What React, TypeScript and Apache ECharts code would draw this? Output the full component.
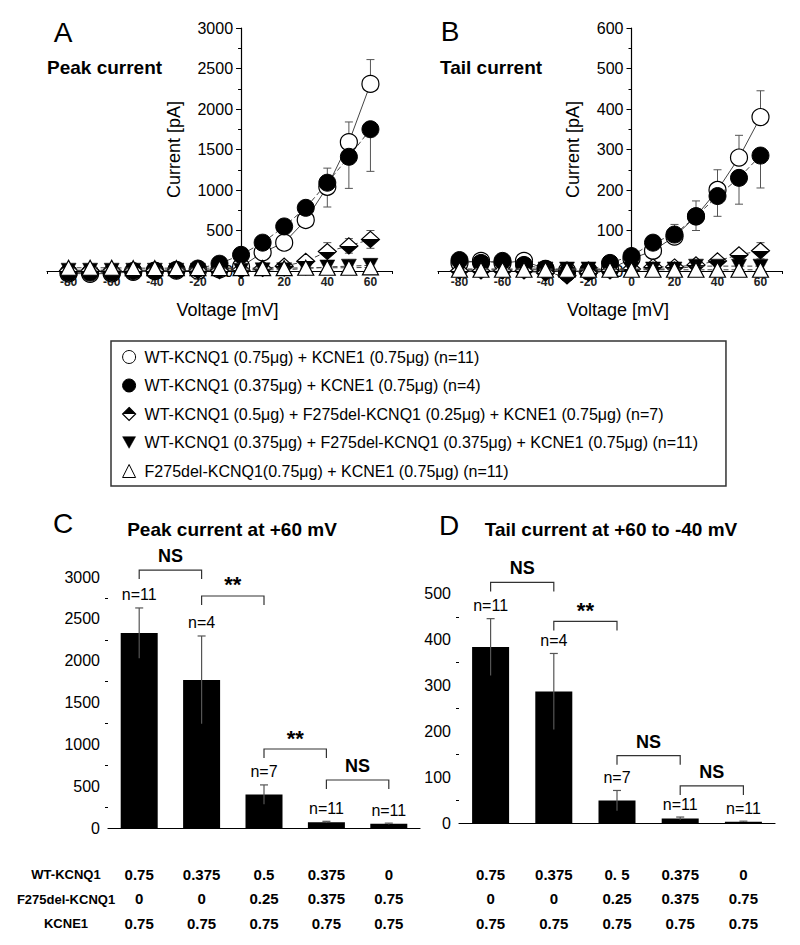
import React, { useEffect, useRef } from "react";
import * as echarts from "echarts";

// ---------- data ----------
const voltages = [-80, -70, -60, -50, -40, -30, -20, -10, 0, 10, 20, 30, 40, 50, 60];

const seriesNames = [
  "WT-KCNQ1 (0.75μg) + KCNE1 (0.75μg) (n=11)",
  "WT-KCNQ1 (0.375μg) + KCNE1 (0.75μg) (n=4)",
  "WT-KCNQ1 (0.5μg) + F275del-KCNQ1 (0.25μg) + KCNE1 (0.75μg) (n=7)",
  "WT-KCNQ1 (0.375μg) + F275del-KCNQ1 (0.375μg) + KCNE1 (0.75μg) (n=11)",
  "F275del-KCNQ1(0.75μg) + KCNE1 (0.75μg) (n=11)",
];

// Panel A: peak current (pA)
const peakWt075 = [-30, -35, -30, -10, 0, 5, 5, 20, 50, 230, 350, 630, 1040, 1590, 2310];
const peakWt075Err = [0, 0, 0, 0, 0, 0, 0, 0, 0, 40, 45, 40, 230, 250, 300];
const peakWt0375 = [-20, -20, -20, 0, 5, 15, 30, 90, 200, 350, 550, 780, 1090, 1410, 1750];
const peakWt0375Err = [0, 0, 0, 0, 0, 0, 0, 0, 0, 0, 0, 40, 300, 390, 520];
const peakMix05 = [5, 5, 5, 5, 5, 5, 5, 5, 10, 30, 60, 120, 240, 310, 390];
const peakMix05Err = [0, 0, 0, 0, 0, 0, 0, 0, 0, 0, 0, 30, 110, 90, 110];
const peakMix0375 = [10, 10, 10, 10, 10, 10, 10, 10, 10, 15, 15, 30, 50, 60, 70];
const peakMix0375Err = [0, 0, 0, 0, 0, 0, 0, 0, 0, 0, 0, 30, 30, 30, 30];
const peakF275 = [40, 40, 40, 35, 35, 35, 35, 35, 35, 35, 35, 40, 40, 40, 45];
const peakF275Err = [0, 0, 0, 0, 0, 0, 0, 0, 0, 0, 0, 0, 0, 0, 0];

// Panel B: tail current (pA)
const tailWt075 = [20, 25, 20, 25, 5, 0, 0, 5, 30, 50, 85, 135, 200, 280, 380];
const tailWt075Err = [0, 0, 0, 0, 0, 0, 0, 0, 0, 15, 30, 38, 50, 55, 65];
const tailWt0375 = [27, 20, 25, 15, 5, -5, 0, 20, 37, 70, 90, 135, 185, 230, 285];
const tailWt0375Err = [0, 0, 0, 0, 0, 0, 0, 0, 0, 0, 20, 35, 50, 65, 80];
const tailMix05 = [0, 0, 0, 0, -5, -12, -5, 0, 5, 10, 10, 15, 25, 40, 50];
const tailMix05Err = [0, 0, 0, 0, 0, 0, 0, 0, 0, 0, 0, 0, 0, 10, 20];
const tailMix0375 = [5, 5, 5, 5, 5, 5, 5, 5, 5, 5, 5, 12, 12, 12, 12];
const tailMix0375Err = [0, 0, 0, 0, 0, 0, 0, 0, 0, 0, 0, 0, 0, 0, 0];
const tailF275 = [3, 3, 3, 3, 3, 3, 3, 3, 3, 3, 3, 3, 3, 3, 3];
const tailF275Err = [0, 0, 0, 0, 0, 0, 0, 0, 0, 0, 0, 0, 0, 0, 0];

// error direction per group: 1 up, -1 down, 0 both
const errDirections = [1, -1, 0, 0, 0];

// Panels C and D: bars
const barCategories = ["G1", "G2", "G3", "G4", "G5"];
const peakAt60 = [2330, 1770, 400, 70, 50];
const peakAt60Err = [300, 525, 115, 10, 8];
const tailAt60 = [384, 287, 49, 10, 3];
const tailAt60Err = [62, 83, 22, 3, 1];
const nCountsC = ["n=11", "n=4", "n=7", "n=11", "n=11"];
const nCountsD = ["n=11", "n=4", "n=7", "n=11", "n=11"];

const bracketsC = [[0, 1, 3083], [1, 2, 2773], [2, 3, 944], [3, 4, 574]];
const bracketLabelsC = ["NS", "**", "**", "NS"];
const bracketsD = [[0, 1, 525], [1, 2, 440], [2, 3, 147], [3, 4, 81]];
const bracketLabelsD = ["NS", "**", "NS", "NS"];

// Table under bars
const tableRowLabels = ["WT-KCNQ1", "F275del-KCNQ1", "KCNE1"];
const wtRowC = ["0.75", "0.375", "0.5", "0.375", "0"];
const wtRowD = ["0.75", "0.375", "0. 5", "0.375", "0"];
const f275Row = ["0", "0", "0.25", "0.375", "0.75"];
const kcne1Row = ["0.75", "0.75", "0.75", "0.75", "0.75"];

// ---------- styles ----------
const FONT = "Liberation Sans, Arial, Helvetica, sans-serif";

function halfGradient(topBlack: boolean) {
  const a = topBlack ? "#000" : "#fff";
  const b = topBlack ? "#fff" : "#000";
  return new echarts.graphic.LinearGradient(0, 0, 0, 1, [
    { offset: 0, color: a },
    { offset: 0.5, color: a },
    { offset: 0.5, color: b },
    { offset: 1, color: b },
  ]);
}

const downTri = "path://M0,0L10,0L5,9Z";

const markerDefs = [
  { symbol: "circle", size: 17, itemStyle: { color: "#fff", borderColor: "#000", borderWidth: 1.2 }, dashed: false },
  { symbol: "circle", size: 17, itemStyle: { color: "#000", borderColor: "#000", borderWidth: 1 }, dashed: true },
  { symbol: "diamond", size: [18, 16], itemStyle: { color: halfGradient(false), borderColor: "#000", borderWidth: 1.2 }, dashed: true },
  { symbol: downTri, size: [15, 14], itemStyle: { color: "#000", borderColor: "#000", borderWidth: 0.5 }, dashed: true },
  { symbol: "triangle", size: [16, 15], itemStyle: { color: "#fff", borderColor: "#000", borderWidth: 1.2 }, dashed: true },
];

const legendIcons = ["circle", "circle", "diamond", downTri, "triangle"];
const legendItemStyles = [
  { color: "#fff", borderColor: "#000", borderWidth: 1 },
  { color: "#000", borderColor: "#000", borderWidth: 1 },
  { color: halfGradient(true), borderColor: "#000", borderWidth: 1.2 },
  { color: "#000", borderColor: "#000", borderWidth: 0.5 },
  { color: "#fff", borderColor: "#000", borderWidth: 1 },
];

function buildErrData(vals: number[][], errs: number[][]) {
  const out: number[][] = [];
  vals.forEach((arr, s) => {
    arr.forEach((v, i) => {
      if (errs[s][i] > 0) out.push([voltages[i], v, errs[s][i], errDirections[s]]);
    });
  });
  return out;
}

function ivErrRender(params: any, api: any) {
  const x = api.value(0);
  const y = api.value(1);
  const e = api.value(2);
  const d = api.value(3);
  const hi = d >= 0 ? y + e : y;
  const lo = d <= 0 ? y - e : y;
  const pHi = api.coord([x, hi]);
  const pLo = api.coord([x, lo]);
  const st = { stroke: "#555", lineWidth: 1 };
  const children: any[] = [
    { type: "line", shape: { x1: pHi[0], y1: pHi[1], x2: pLo[0], y2: pLo[1] }, style: st },
  ];
  if (d >= 0) children.push({ type: "line", shape: { x1: pHi[0] - 4, y1: pHi[1], x2: pHi[0] + 4, y2: pHi[1] }, style: st });
  if (d <= 0) children.push({ type: "line", shape: { x1: pLo[0] - 4, y1: pLo[1], x2: pLo[0] + 4, y2: pLo[1] }, style: st });
  return { type: "group", children };
}

function barErrRender(params: any, api: any) {
  const i = api.value(0);
  const v = api.value(1);
  const e = api.value(2);
  const pHi = api.coord([i, v + e]);
  const pLo = api.coord([i, Math.max(0, v - e)]);
  const st = { stroke: "#555", lineWidth: 1.2 };
  return {
    type: "group",
    children: [
      { type: "line", shape: { x1: pHi[0], y1: pHi[1], x2: pLo[0], y2: pLo[1] }, style: st },
      { type: "line", shape: { x1: pHi[0] - 4, y1: pHi[1], x2: pHi[0] + 4, y2: pHi[1] }, style: st },
    ],
  };
}

function nLabelRender(labels: string[]) {
  return (params: any, api: any) => {
    const i = api.value(0);
    const top = api.value(1) + api.value(2);
    const p = api.coord([i, top]);
    return {
      type: "text",
      x: p[0],
      y: p[1] - 13,
      style: {
        text: labels[params.dataIndex],
        font: `16px ${FONT}`,
        fill: "#000",
        align: "center",
        verticalAlign: "middle",
        textAlign: "center",
        textVerticalAlign: "middle",
      },
    };
  };
}

function bracketRender(labels: string[]) {
  return (params: any, api: any) => {
    const a = api.value(0);
    const b = api.value(1);
    const lvl = api.value(2);
    const p1 = api.coord([a, lvl]);
    const p2 = api.coord([b, lvl]);
    const label = labels[params.dataIndex];
    const isStar = label === "**";
    return {
      type: "group",
      children: [
        {
          type: "polyline",
          shape: { points: [[p1[0], p1[1] + 9], [p1[0], p1[1]], [p2[0], p1[1]], [p2[0], p1[1] + 9]] },
          style: { stroke: "#333", lineWidth: 1.2, fill: null },
        },
        {
          type: "text",
          x: (p1[0] + p2[0]) / 2,
          y: p1[1] - (isStar ? 11 : 14),
          style: {
            text: label,
            font: `bold ${isStar ? 22 : 18}px ${FONT}`,
            fill: "#000",
            align: "center",
            verticalAlign: "middle",
            textAlign: "center",
            textVerticalAlign: "middle",
          },
        },
      ],
    };
  };
}

function gText(text: string, x: number, y: number, font: string, align = "center") {
  return {
    type: "text",
    x,
    y,
    silent: true,
    style: {
      text,
      font,
      fill: "#000",
      align,
      verticalAlign: "middle",
      textAlign: align,
      textVerticalAlign: "middle",
    },
  };
}

function buildOption() {
  const axisLine = { onZero: false, lineStyle: { color: "#000", width: 1.2 } };
  const xLabelFmt = (v: number) => (v % 20 === 0 && v >= -80 && v <= 60 ? String(v) : "");

  const ivX = (grid: number) => ({
    type: "value",
    gridIndex: grid,
    min: -90,
    max: 70,
    interval: 10,
    splitLine: { show: false },
    axisLine,
    axisTick: { length: 3, lineStyle: { color: "#000" } },
    axisLabel: { fontSize: 12, fontWeight: "bold", margin: 5, color: "#222", formatter: xLabelFmt },
    name: "Voltage [mV]",
    nameLocation: "middle",
    nameGap: 30,
    nameTextStyle: { fontSize: 18, color: "#000", padding: [0, 0, 0, 16] },
  });

  const yCommon = (grid: number, max: number, interval: number) => ({
    type: "value",
    gridIndex: grid,
    min: 0,
    max,
    interval,
    splitLine: { show: false },
    axisLine,
    axisTick: { length: 5, lineStyle: { color: "#000" } },
    minorTick: { show: true, splitNumber: 2, length: 3, lineStyle: { color: "#000" } },
    minorSplitLine: { show: false },
    axisLabel: {
      fontSize: 16,
      margin: 8,
      color: "#000",
      formatter: (v: number) => (v % interval === 0 ? String(v) : ""),
    },
  });

  const barX = (grid: number, wtRow: string[], margin: number) => ({
    type: "category",
    gridIndex: grid,
    data: barCategories,
    axisLine,
    axisTick: { show: false },
    axisLabel: {
      interval: 0,
      margin,
      color: "#000",
      fontSize: 15,
      fontWeight: "bold",
      lineHeight: 24.5,
      formatter: (_v: string, i: number) => `${wtRow[i]}\n${f275Row[i]}\n${kcne1Row[i]}`,
    },
  });

  const peakVals = [peakWt075, peakWt0375, peakMix05, peakMix0375, peakF275];
  const peakErrs = [peakWt075Err, peakWt0375Err, peakMix05Err, peakMix0375Err, peakF275Err];
  const tailVals = [tailWt075, tailWt0375, tailMix05, tailMix0375, tailF275];
  const tailErrs = [tailWt075Err, tailWt0375Err, tailMix05Err, tailMix0375Err, tailF275Err];

  const lineSeries = (vals: number[][], axis: number) =>
    vals.map((arr, s) => ({
      type: "line",
      name: seriesNames[s],
      xAxisIndex: axis,
      yAxisIndex: axis,
      data: arr.map((v, i) => [voltages[i], v]),
      symbol: markerDefs[s].symbol,
      symbolSize: markerDefs[s].size,
      itemStyle: markerDefs[s].itemStyle,
      lineStyle: { color: "#444", width: 1, type: markerDefs[s].dashed ? [5, 3] : "solid" },
      clip: false,
      silent: true,
      z: 3 + s,
    }));

  const custom = (xi: number, data: any[], renderItem: any, z: number) => ({
    type: "custom",
    xAxisIndex: xi,
    yAxisIndex: xi,
    data,
    renderItem,
    clip: false,
    silent: true,
    z,
  });

  const series: any[] = [
    custom(0, buildErrData(peakVals, peakErrs), ivErrRender, 2),
    custom(1, buildErrData(tailVals, tailErrs), ivErrRender, 2),
    ...lineSeries(peakVals, 0),
    ...lineSeries(tailVals, 1),
    { type: "bar", xAxisIndex: 2, yAxisIndex: 2, data: peakAt60, barWidth: 37, itemStyle: { color: "#000" }, silent: true },
    { type: "bar", xAxisIndex: 3, yAxisIndex: 3, data: tailAt60, barWidth: 37, itemStyle: { color: "#000" }, silent: true },
    custom(2, peakAt60.map((v, i) => [i, v, peakAt60Err[i]]), barErrRender, 5),
    custom(3, tailAt60.map((v, i) => [i, v, tailAt60Err[i]]), barErrRender, 5),
    custom(2, peakAt60.map((v, i) => [i, v, peakAt60Err[i]]), nLabelRender(nCountsC), 6),
    custom(3, tailAt60.map((v, i) => [i, v, tailAt60Err[i]]), nLabelRender(nCountsD), 6),
    custom(2, bracketsC, bracketRender(bracketLabelsC), 6),
    custom(3, bracketsD, bracketRender(bracketLabelsD), 6),
  ];

  // grid boxes; the I-V y axes are shifted onto V = 0 mV via offset
  const gA = { left: 47, top: 28, width: 345, height: 243 };
  const gB = { left: 438, top: 28, width: 344, height: 243 };
  const zeroOffsetA = -(gA.width * 90) / 160;
  const zeroOffsetB = -(gB.width * 90) / 160;

  return {
    animation: false,
    backgroundColor: "#fff",
    textStyle: { fontFamily: FONT, color: "#000" },
    grid: [
      { ...gA, containLabel: false, outerBoundsMode: "none" },
      { ...gB, containLabel: false, outerBoundsMode: "none" },
      { left: 108, top: 577, width: 312, height: 251, containLabel: false, outerBoundsMode: "none" },
      { left: 459, top: 571, width: 316, height: 252, containLabel: false, outerBoundsMode: "none" },
    ],
    xAxis: [ivX(0), ivX(1), barX(2, wtRowC, 34), barX(3, wtRowD, 39)],
    yAxis: [
      {
        ...yCommon(0, 3000, 500),
        offset: zeroOffsetA,
        name: "Current [pA]",
        nameLocation: "middle",
        nameGap: 58,
        nameTextStyle: { fontSize: 18, color: "#000" },
      },
      {
        ...yCommon(1, 600, 100),
        offset: zeroOffsetB,
        name: "Current [pA]",
        nameLocation: "middle",
        nameGap: 50,
        nameTextStyle: { fontSize: 18, color: "#000" },
      },
      yCommon(2, 3000, 500),
      yCommon(3, 550, 100),
    ],
    legend: {
      left: 111,
      top: 341,
      orient: "vertical",
      selectedMode: false,
      borderColor: "#333",
      borderWidth: 1.5,
      padding: [7, 28, 6, 11],
      itemWidth: 13,
      itemHeight: 13,
      itemGap: 10.5,
      textStyle: { fontSize: 16, color: "#000", lineHeight: 18, padding: [0, 0, 0, 4] },
      data: seriesNames.map((n, i) => ({ name: n, icon: legendIcons[i], itemStyle: legendItemStyles[i] })),
    },
    graphic: [
      gText("A", 63, 32, `28px ${FONT}`),
      gText("Peak current", 47, 67, `bold 19px ${FONT}`, "left"),
      gText("B", 450, 31, `28px ${FONT}`),
      gText("Tail current", 440, 67, `bold 19px ${FONT}`, "left"),
      gText("C", 63, 523, `28px ${FONT}`),
      gText("Peak current at +60 mV", 232, 529, `bold 19px ${FONT}`),
      gText("D", 449, 525, `28px ${FONT}`),
      gText("Tail current at +60 to -40 mV", 611, 529, `bold 19px ${FONT}`),
      gText(tableRowLabels[0], 66, 874, `bold 13px ${FONT}`),
      gText(tableRowLabels[1], 66, 899, `bold 13px ${FONT}`),
      gText(tableRowLabels[2], 66, 923, `bold 13px ${FONT}`),
    ],
    series,
  };
}

export default function App() {
  const ref = useRef<HTMLDivElement>(null);
  useEffect(() => {
    if (!ref.current) return;
    const chart = echarts.init(ref.current, null, { renderer: "svg" });
    chart.setOption(buildOption() as any);
    return () => chart.dispose();
  }, []);
  return (
    <div
      ref={ref}
      style={{ position: "absolute", left: 0, top: 0, width: 800, height: 945, background: "#fff" }}
    />
  );
}
